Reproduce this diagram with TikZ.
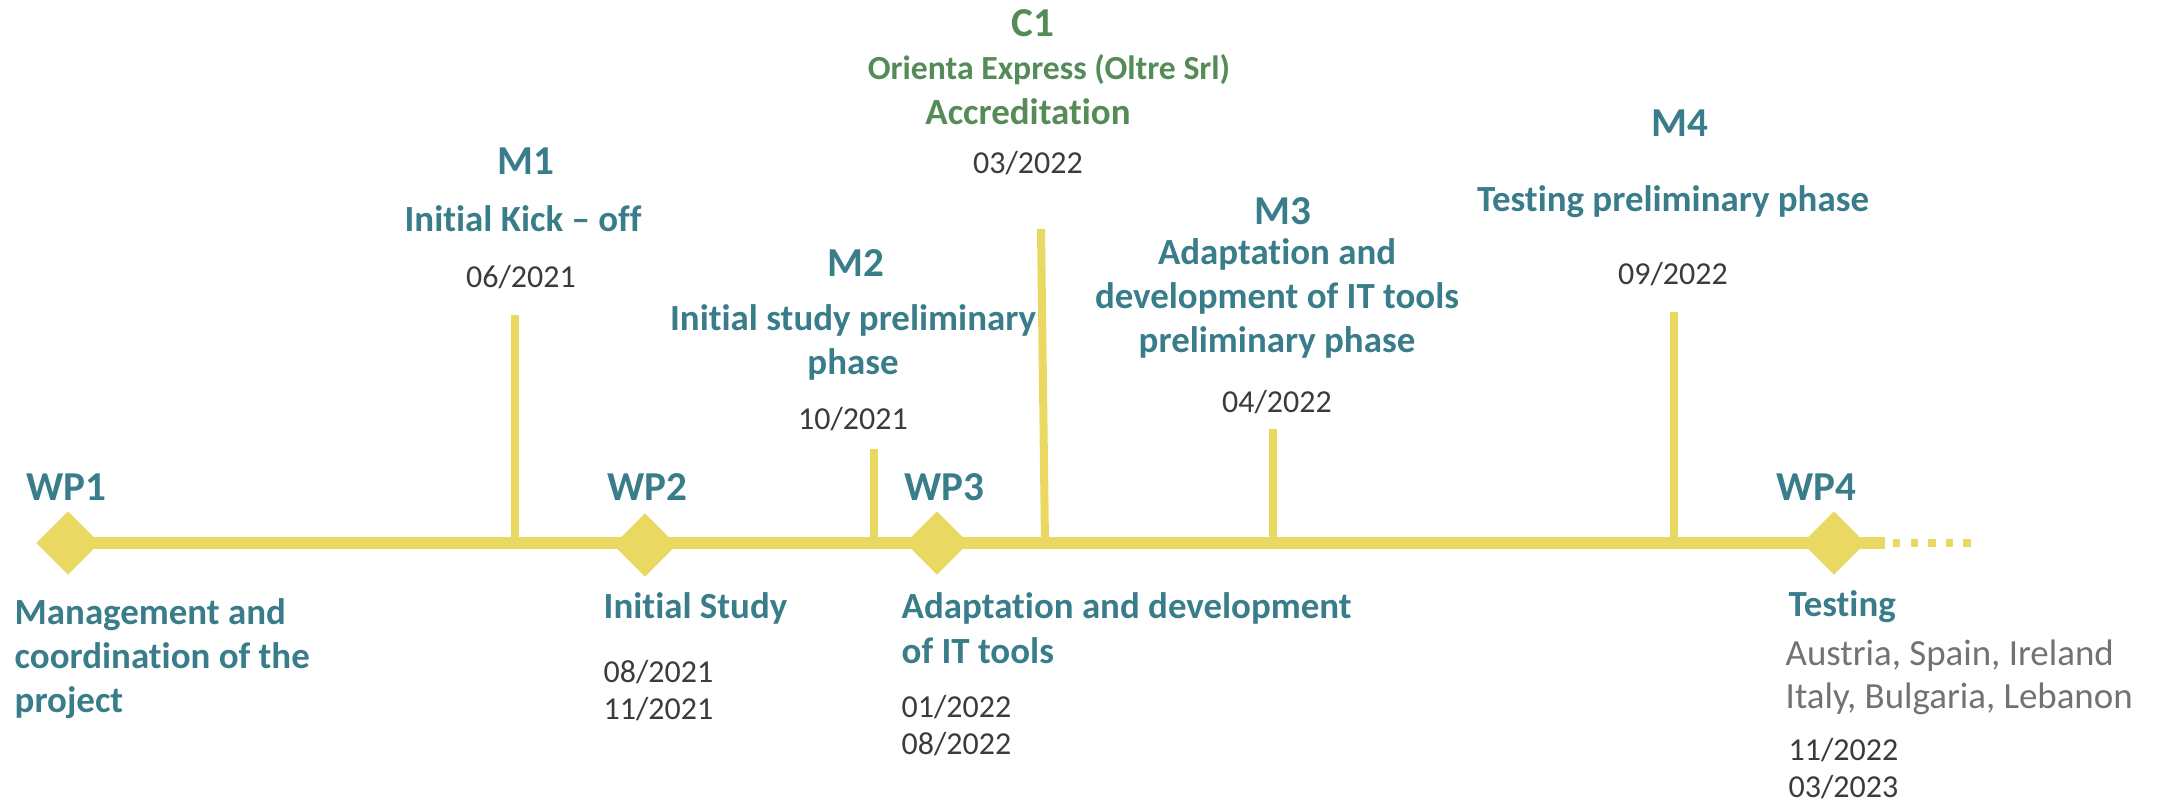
\documentclass[tikz,border=0pt]{standalone}
\usepackage{fontspec}
\setmainfont{Carlito}[Ligatures=NoCommon]
\usepackage{tikz}
\usetikzlibrary{shapes.geometric, positioning}

\definecolor{wpteal}{RGB}{58,125,138}
\definecolor{cgreen}{RGB}{84,139,87}
\definecolor{lineyellow}{RGB}{233,216,98}
\definecolor{datedark}{RGB}{59,59,59}
\definecolor{countrygray}{RGB}{118,113,113}

\begin{document}
\begin{tikzpicture}[
        wpmark/.style={diamond, fill=lineyellow, inner sep=0pt, minimum width=0.64cm, minimum height=0.64cm},
        tl/.style={draw=lineyellow, line width=0.12cm},
        stem/.style={draw=lineyellow, line width=0.08cm},
        tag/.style={text=wpteal, font=\fontsize{11.7}{14}\selectfont\bfseries, inner sep=0pt},
        desc/.style={text=wpteal, font=\fontsize{10.5}{12.6}\selectfont\bfseries, inner sep=0pt},
        when/.style={text=datedark, font=\fontsize{9.1}{10.5}\selectfont, inner sep=0pt, align=left},
        where/.style={text=countrygray, font=\fontsize{10.5}{12.2}\selectfont, inner sep=0pt, align=left}
    ]
        \useasboundingbox (0,0) rectangle (21.64,8.02);

        % Work package diamonds on the timeline
        \node[wpmark] (wp1) at (0.68,2.59) {};
        \node[wpmark] (wp2) at (6.45,2.57) {};
        \node[wpmark] (wp3) at (9.37,2.59) {};
        \node[wpmark] (wp4) at (18.34,2.59) {};

        % Main timeline and dotted tail
        \coordinate (lineend) at (18.85,2.59);
        \coordinate (dotstart) at (18.93,2.59);
        \coordinate (dotend) at (19.81,2.59);
        \draw[tl] (wp1.center) -- (lineend);
        \draw[lineyellow, line width=0.08cm, dash pattern=on 0.073cm off 0.103cm] (dotstart) -- (dotend);

        % Milestone stems
        \coordinate (m1top) at (5.15,4.87);
        \coordinate (m2top) at (8.74,3.53);
        \coordinate (c1top) at (10.41,5.73);
        \coordinate (m3top) at (12.73,3.73);
        \coordinate (m4top) at (16.74,4.90);
        \coordinate (c1foot) at (10.45,2.59);
        \draw[stem] (m1top) -- (m1top |- wp1);
        \draw[stem] (m2top) -- (m2top |- wp1);
        \draw[stem] (c1top) -- (c1foot);
        \draw[stem] (m3top) -- (m3top |- wp1);
        \draw[stem] (m4top) -- (m4top |- wp1);

        % Work package labels
        \node[tag, anchor=base west] (wp1tag) at (0.26,3.02) {WP1};
        \node[tag, anchor=base west] (wp2tag) at (6.07,3.02) {WP2};
        \node[tag, anchor=base west] (wp3tag) at (9.04,3.02) {WP3};
        \node[tag, anchor=base west] (wp4tag) at (17.76,3.02) {WP4};

        % Work package texts below the line (base = last line)
        \node[desc, anchor=base west, align=left] (wp1text) at (0.14,0.89) {Management and\\coordination of the\\project};
        \node[desc, anchor=base west] (wp2text) at (6.03,1.83) {Initial Study};
        \node[when, anchor=base west] (wp2date) at (6.03,0.83) {08/2021\\11/2021};
        \node[desc, anchor=base west, align=left] (wp3text) at (9.01,1.39) {Adaptation and development\\of IT tools};
        \node[when, anchor=base west] (wp3date) at (9.01,0.48) {01/2022\\08/2022};
        \node[desc, anchor=base west] (wp4text) at (17.88,1.85) {Testing};
        \node[where, anchor=base west] (wp4where) at (17.85,0.94) {Austria, Spain, Ireland\\Italy, Bulgaria, Lebanon};
        \node[when, anchor=base west] (wp4date) at (17.88,0.05) {11/2022\\03/2023};

        % Milestones above the line
        \node[tag, anchor=base] (m1tag) at (5.26,6.27) {M1};
        \node[desc, anchor=base] (m1text) at (5.23,5.70) {Initial Kick -- off};
        \node[when, anchor=base] (m1date) at (5.21,5.14) {06/2021};

        \node[tag, anchor=base] (m2tag) at (8.56,5.25) {M2};
        \node[desc, anchor=base, align=center] (m2text) at (8.53,4.27) {Initial study preliminary\\phase};
        \node[when, anchor=base] (m2date) at (8.53,3.72) {10/2021};

        \node[tag, anchor=base, text=cgreen] (c1tag) at (10.33,7.65) {C1};
        \node[desc, anchor=base, text=cgreen, font=\fontsize{9.6}{12}\selectfont\bfseries] (c1text) at (10.49,7.22) {Orienta Express (Oltre Srl)};
        \node[desc, anchor=base, text=cgreen] (c1sub) at (10.28,6.77) {Accreditation};
        \node[when, anchor=base] (c1date) at (10.28,6.28) {03/2022};

        \node[tag, anchor=base] (m3tag) at (12.83,5.77) {M3};
        \node[desc, anchor=base, align=center] (m3text) at (12.77,4.49) {Adaptation and\\development of IT tools\\preliminary phase};
        \node[when, anchor=base] (m3date) at (12.77,3.90) {04/2022};

        \node[tag, anchor=base] (m4tag) at (16.80,6.65) {M4};
        \node[desc, anchor=base] (m4text) at (16.73,5.90) {Testing preliminary phase};
        \node[when, anchor=base] (m4date) at (16.73,5.17) {09/2022};
    \end{tikzpicture}
\end{document}
